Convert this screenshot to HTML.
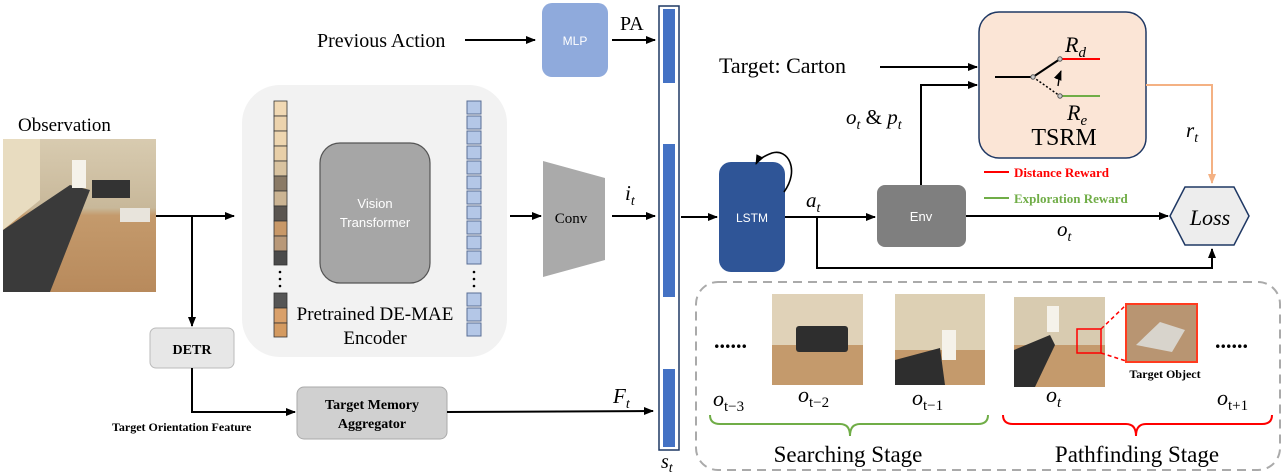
<!DOCTYPE html>
<html><head><meta charset="utf-8"><style>
body{margin:0;background:#fff}
svg{display:block}
.s{font-family:"Liberation Serif",serif}
.a{font-family:"Liberation Sans",sans-serif}
.m{font-family:"Liberation Serif",serif;font-style:italic}
</style></head><body>
<svg width="1284" height="474" viewBox="0 0 1284 474" xmlns="http://www.w3.org/2000/svg">
<defs>
<marker id="ar" markerWidth="10" markerHeight="10" refX="9" refY="5" orient="auto" markerUnits="userSpaceOnUse"><path d="M0,1 L10,5 L0,9 z" fill="#000"/></marker>
<marker id="ao" markerWidth="10" markerHeight="10" refX="9" refY="5" orient="auto" markerUnits="userSpaceOnUse"><path d="M0,1 L10,5 L0,9 z" fill="#f4b183"/></marker>
<linearGradient id="room" x1="0" y1="0" x2="0" y2="1"><stop offset="0" stop-color="#d8cbb0"/><stop offset="0.45" stop-color="#c8b89a"/><stop offset="0.5" stop-color="#c49a6c"/><stop offset="1" stop-color="#b88a5c"/></linearGradient>
</defs>

<!-- Previous action / MLP -->
<text x="317" y="47" class="s" font-size="20">Previous Action</text>
<line x1="465" y1="40" x2="535" y2="40" stroke="#000" stroke-width="2" marker-end="url(#ar)"/>
<rect x="542" y="3" width="66" height="74" rx="10" fill="#8faadc"/>
<text x="575" y="45" class="a" font-size="12" fill="#fff" text-anchor="middle">MLP</text>
<text x="620" y="30" class="s" font-size="20">PA</text>
<line x1="612" y1="40" x2="655" y2="40" stroke="#000" stroke-width="2" marker-end="url(#ar)"/>

<!-- s_t bar -->
<rect x="659" y="6" width="20" height="444" fill="#fff" stroke="#1f3864" stroke-width="1.5"/>
<rect x="663" y="9" width="12" height="74" fill="#4472c4"/>
<rect x="663" y="144" width="12" height="153" fill="#4472c4"/>
<rect x="663" y="369" width="12" height="78" fill="#4472c4"/>
<text x="661" y="468" class="m" font-size="20">s<tspan font-size="14" dy="4">t</tspan></text>

<!-- Observation -->
<text x="18" y="131" class="s" font-size="19">Observation</text>
<rect x="3" y="139" width="153" height="153" fill="url(#room)"/>
<polygon points="3,139 40,139 40,200 3,230" fill="#e8dcc0"/>
<polygon points="3,230 70,185 90,190 50,292 3,292" fill="#3a3a3a"/>
<rect x="92" y="180" width="38" height="18" fill="#333"/>
<rect x="72" y="160" width="14" height="28" fill="#f5f2ea"/>
<rect x="120" y="208" width="30" height="14" fill="#e8e4dc"/>
<line x1="156" y1="216" x2="234" y2="216" stroke="#000" stroke-width="2" marker-end="url(#ar)"/>
<line x1="192" y1="216" x2="192" y2="326" stroke="#000" stroke-width="2" marker-end="url(#ar)"/>

<!-- DETR -->
<rect x="150" y="328" width="84" height="40" rx="6" fill="#e7e7e7" stroke="#bbb"/>
<text x="192" y="354" class="s" font-size="14" font-weight="bold" text-anchor="middle">DETR</text>
<polyline points="192,368 192,412 295,412" fill="none" stroke="#000" stroke-width="2" marker-end="url(#ar)"/>
<text x="112" y="431" class="s" font-size="12" font-weight="bold">Target Orientation Feature</text>
<rect x="297" y="387" width="150" height="52" rx="7" fill="#d0d0d0" stroke="#aaa"/>
<text x="372" y="409" class="s" font-size="14" font-weight="bold" text-anchor="middle">Target Memory</text>
<text x="372" y="428" class="s" font-size="14" font-weight="bold" text-anchor="middle">Aggregator</text>
<line x1="447" y1="412" x2="653" y2="411" stroke="#000" stroke-width="2" marker-end="url(#ar)"/>
<text x="613" y="403" class="m" font-size="21">F<tspan font-size="14" dy="5">t</tspan></text>

<!-- Encoder -->
<rect x="242" y="85" width="265" height="272" rx="38" fill="#f2f2f2"/>
<g stroke="#333" stroke-width="0.8">
<rect x="274" y="101" width="13" height="15" fill="#f1d9b4"/>
<rect x="274" y="116" width="13" height="15" fill="#ecd3ad"/>
<rect x="274" y="131" width="13" height="15" fill="#eed6b0"/>
<rect x="274" y="146" width="13" height="15" fill="#e8cfa8"/>
<rect x="274" y="161" width="13" height="15" fill="#d9c3a0"/>
<rect x="274" y="176" width="13" height="15" fill="#8a7a66"/>
<rect x="274" y="191" width="13" height="15" fill="#cbb493"/>
<rect x="274" y="206" width="13" height="15" fill="#5a5550"/>
<rect x="274" y="221" width="13" height="15" fill="#c89868"/>
<rect x="274" y="236" width="13" height="15" fill="#b89878"/>
<rect x="274" y="251" width="13" height="14" fill="#4a4a4a"/>
<rect x="274" y="293" width="13" height="15" fill="#555"/>
<rect x="274" y="308" width="13" height="15" fill="#d9a06a"/>
<rect x="274" y="323" width="13" height="14" fill="#d49a60"/>
</g>
<g fill="#b4c7e7" stroke="#5a6f96" stroke-width="1">
<rect x="467" y="101" width="14" height="13"/><rect x="467" y="116" width="14" height="13"/><rect x="467" y="131" width="14" height="13"/><rect x="467" y="146" width="14" height="13"/><rect x="467" y="161" width="14" height="13"/><rect x="467" y="176" width="14" height="13"/><rect x="467" y="191" width="14" height="13"/><rect x="467" y="206" width="14" height="13"/><rect x="467" y="221" width="14" height="13"/><rect x="467" y="236" width="14" height="13"/><rect x="467" y="251" width="14" height="13"/>
<rect x="467" y="293" width="14" height="13"/><rect x="467" y="308" width="14" height="13"/><rect x="467" y="323" width="14" height="13"/>
</g>
<g fill="#000"><circle cx="280" cy="272" r="1.3"/><circle cx="280" cy="279" r="1.3"/><circle cx="280" cy="286" r="1.3"/>
<circle cx="474" cy="272" r="1.3"/><circle cx="474" cy="279" r="1.3"/><circle cx="474" cy="286" r="1.3"/></g>
<rect x="320" y="143" width="110" height="140" rx="20" fill="#a6a6a6" stroke="#555" stroke-width="1.2"/>
<text x="375" y="208" class="a" font-size="13" fill="#fff" text-anchor="middle">Vision</text>
<text x="375" y="227" class="a" font-size="13" fill="#fff" text-anchor="middle">Transformer</text>
<text x="375" y="320" class="s" font-size="19" text-anchor="middle">Pretrained DE-MAE</text>
<text x="375" y="344" class="s" font-size="19" text-anchor="middle">Encoder</text>

<!-- Conv -->
<line x1="510" y1="216" x2="541" y2="216" stroke="#000" stroke-width="2" marker-end="url(#ar)"/>
<polygon points="543,161 605,178 605,260 543,277" fill="#aaaaaa"/>
<text x="571" y="223" class="s" font-size="15" text-anchor="middle">Conv</text>
<line x1="612" y1="216" x2="655" y2="216" stroke="#000" stroke-width="2" marker-end="url(#ar)"/>
<text x="625" y="200" class="m" font-size="21">i<tspan font-size="14" dy="5">t</tspan></text>

<!-- LSTM -->
<line x1="681" y1="217" x2="717" y2="217" stroke="#000" stroke-width="2" marker-end="url(#ar)"/>
<rect x="719" y="162" width="66" height="110" rx="12" fill="#2f5597"/>
<text x="752" y="222" class="a" font-size="12" fill="#fff" text-anchor="middle">LSTM</text>
<path d="M784,192 C800,170 788,148 772,153 C764,156 758,160 756,164" fill="none" stroke="#000" stroke-width="1.6" marker-end="url(#ar)"/>
<text x="806" y="207" class="m" font-size="21">a<tspan font-size="14" dy="5">t</tspan></text>
<line x1="785" y1="217" x2="875" y2="217" stroke="#000" stroke-width="2" marker-end="url(#ar)"/>
<polyline points="817,217 817,268 1212,268 1212,249" fill="none" stroke="#000" stroke-width="2" marker-end="url(#ar)"/>

<!-- Env -->
<rect x="877" y="185" width="89" height="62" rx="8" fill="#7f7f7f"/>
<text x="921" y="221" class="a" font-size="13" fill="#fff" text-anchor="middle">Env</text>
<line x1="966" y1="216" x2="1168" y2="216" stroke="#000" stroke-width="2" marker-end="url(#ar)"/>
<text x="1057" y="236" class="m" font-size="21">o<tspan font-size="14" dy="5">t</tspan></text>
<polyline points="921,185 921,85 977,85" fill="none" stroke="#000" stroke-width="2" marker-end="url(#ar)"/>
<text x="846" y="124" class="m" font-size="21">o<tspan font-size="14" dy="5">t</tspan><tspan dy="-5" font-style="normal"> &amp; </tspan>p<tspan font-size="14" dy="5">t</tspan></text>

<!-- Target Carton -->
<text x="719" y="73" class="s" font-size="22">Target: Carton</text>
<line x1="880" y1="67" x2="977" y2="67" stroke="#000" stroke-width="2" marker-end="url(#ar)"/>

<!-- TSRM -->
<rect x="979" y="12" width="167" height="146" rx="20" fill="#fbe5d6" stroke="#1f3864" stroke-width="1.5"/>
<line x1="995" y1="77" x2="1033" y2="77" stroke="#000" stroke-width="2"/>
<line x1="1033" y1="77" x2="1060" y2="59" stroke="#000" stroke-width="2"/>
<line x1="1033" y1="77" x2="1060" y2="96" stroke="#000" stroke-width="1.5" stroke-dasharray="2,2"/>
<line x1="1060" y1="59" x2="1100" y2="59" stroke="#ff0000" stroke-width="2"/>
<line x1="1060" y1="96" x2="1100" y2="96" stroke="#70ad47" stroke-width="2"/>
<circle cx="1033" cy="77" r="2.2" fill="#ccc" stroke="#555"/>
<circle cx="1060" cy="59" r="2.2" fill="#ccc" stroke="#555"/>
<circle cx="1060" cy="96" r="2.2" fill="#ccc" stroke="#555"/>
<path d="M1058,86 C1059,80 1059,76 1061,71" fill="none" stroke="#000" stroke-width="1.4" marker-end="url(#ar)"/>
<text x="1065" y="52" class="m" font-size="22">R<tspan font-size="15" dy="5">d</tspan></text>
<text x="1067" y="120" class="m" font-size="22">R<tspan font-size="15" dy="5">e</tspan></text>
<text x="1064" y="145" class="s" font-size="24" text-anchor="middle">TSRM</text>
<polyline points="1146,85 1212,85 1212,183" fill="none" stroke="#f4b183" stroke-width="2" marker-end="url(#ao)"/>
<text x="1186" y="137" class="m" font-size="21">r<tspan font-size="14" dy="5">t</tspan></text>

<!-- Legend -->
<line x1="984" y1="172" x2="1009" y2="172" stroke="#ff0000" stroke-width="2"/>
<text x="1014" y="177" class="s" font-size="13" font-weight="bold" fill="#ff0000">Distance Reward</text>
<line x1="984" y1="198" x2="1009" y2="198" stroke="#70ad47" stroke-width="2"/>
<text x="1014" y="203" class="s" font-size="13" font-weight="bold" fill="#70ad47">Exploration Reward</text>

<!-- Loss -->
<polygon points="1170,216 1185,187 1234,187 1249,216 1234,245 1185,245" fill="#ededed" stroke="#1f3864" stroke-width="1.5"/>
<text x="1210" y="225" class="m" font-size="22" text-anchor="middle">Loss</text>

<!-- Bottom dashed panel -->
<rect x="696" y="282" width="584" height="188" rx="22" fill="none" stroke="#aaa" stroke-width="2" stroke-dasharray="9,6"/>
<text x="714" y="348" class="s" font-size="22" font-weight="bold">......</text>
<text x="1215" y="348" class="s" font-size="22" font-weight="bold">......</text>
<!-- photo o_{t-2} -->
<rect x="772" y="294" width="91" height="91" fill="#e0d2b8"/>
<rect x="772" y="345" width="91" height="40" fill="#c49a6c"/>
<rect x="796" y="326" width="52" height="26" rx="3" fill="#2e2e2e"/>
<!-- photo o_{t-1} -->
<rect x="895" y="294" width="90" height="91" fill="#ddd0b4"/>
<rect x="895" y="350" width="90" height="35" fill="#c49a6c"/>
<rect x="942" y="330" width="14" height="30" fill="#f5f2ea"/>
<polygon points="895,360 940,348 945,385 895,385" fill="#2e2e2e"/>
<!-- photo o_t -->
<rect x="1014" y="297" width="91" height="90" fill="#d8cbb0"/>
<rect x="1014" y="345" width="91" height="42" fill="#c49a6c"/>
<rect x="1047" y="306" width="12" height="26" fill="#f5f2ea"/>
<polygon points="1014,350 1050,335 1055,345 1035,387 1014,387" fill="#2e2e2e"/>
<rect x="1077" y="329" width="24" height="24" fill="none" stroke="#ff0000" stroke-width="1.5"/>
<line x1="1101" y1="329" x2="1126" y2="305" stroke="#ff0000" stroke-width="1.5" stroke-dasharray="4,3"/>
<line x1="1101" y1="353" x2="1126" y2="361" stroke="#ff0000" stroke-width="1.5" stroke-dasharray="4,3"/>
<rect x="1126" y="304" width="71" height="58" fill="#b89572" stroke="#ff3b1f" stroke-width="2"/>
<polygon points="1136,345 1160,322 1185,330 1172,352" fill="#d8d4cc"/>
<text x="1165" y="378" class="s" font-size="12" font-weight="bold" text-anchor="middle">Target Object</text>
<!-- labels -->
<g class="m" font-size="22">
<text x="713" y="406">o<tspan font-size="15" dy="5" font-style="normal">t−3</tspan></text>
<text x="798" y="402">o<tspan font-size="15" dy="5" font-style="normal">t−2</tspan></text>
<text x="912" y="405">o<tspan font-size="15" dy="5" font-style="normal">t−1</tspan></text>
<text x="1046" y="402">o<tspan font-size="15" dy="5">t</tspan></text>
<text x="1217" y="405">o<tspan font-size="15" dy="5" font-style="normal">t+1</tspan></text>
</g>
<path d="M710,415 Q710,424 720,424 L840,424 Q850,424 850,436 Q850,424 860,424 L978,424 Q988,424 988,415" fill="none" stroke="#70ad47" stroke-width="2"/>
<path d="M1003,415 Q1003,424 1013,424 L1126,424 Q1136,424 1136,436 Q1136,424 1146,424 L1262,424 Q1272,424 1272,415" fill="none" stroke="#ff0000" stroke-width="2"/>
<text x="848" y="462" class="s" font-size="23" text-anchor="middle">Searching Stage</text>
<text x="1137" y="462" class="s" font-size="23" text-anchor="middle">Pathfinding Stage</text>
</svg>
</body></html>
